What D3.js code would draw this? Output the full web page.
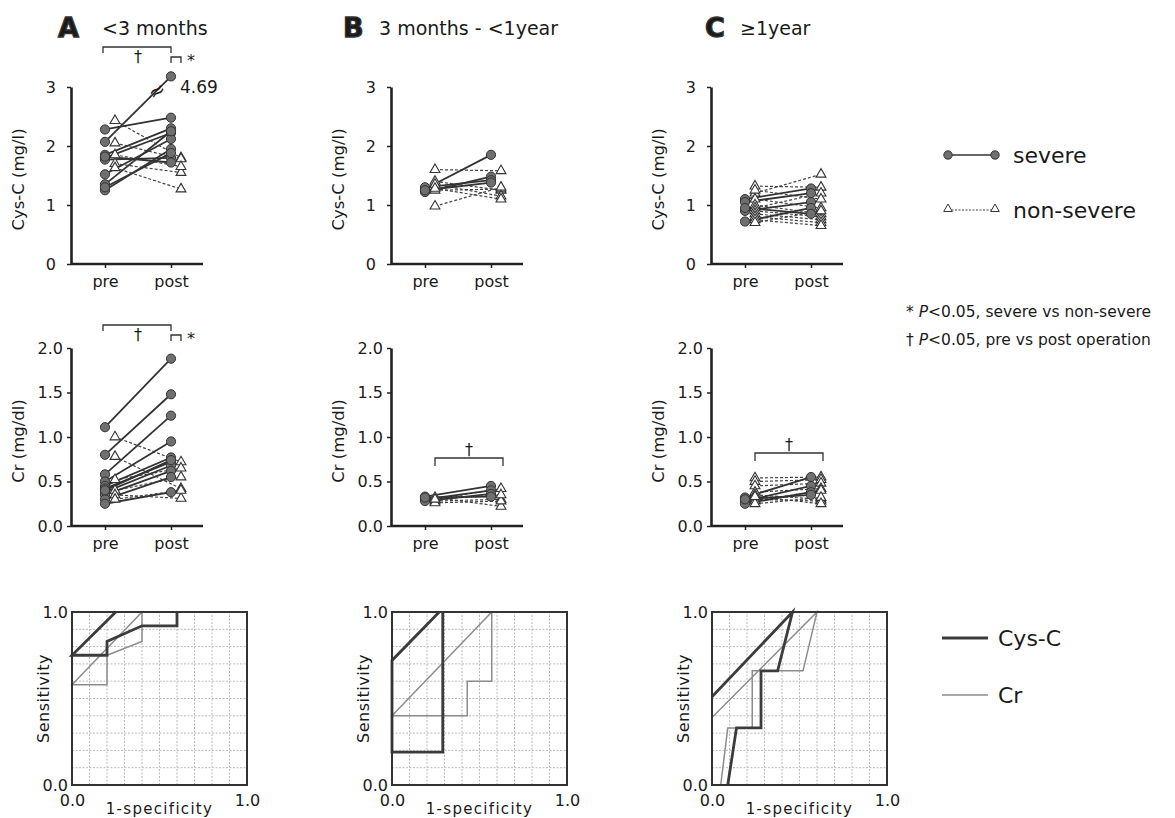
<!DOCTYPE html>
<html>
<head>
<meta charset="utf-8">
<script src="https://cdn.jsdelivr.net/npm/d3@7"></script>
<style>
  body { margin: 0; background: #fff; }
  svg text { font-family: "DejaVu Sans", sans-serif; fill: #1a1a1a; }
</style>
</head>
<body>
<svg id="chart" width="1175" height="818"></svg>
<script>
// ---- data ----
const phases = ["pre", "post"];
const panelLetters = ["A", "B", "C"];
const ageGroups = ["<3 months", "3 months - <1year", "\u22651year"];
const cysTicks = [0, 1, 2, 3];
const crTicks = [0, 0.5, 1.0, 1.5, 2.0];
const rocTicks = [0, 1];

// Cys-C (mg/l), one [pre, post] pair per patient
const cysSevereA = [[2.28, 2.48], [2.07, 4.69], [1.85, 2.30], [1.80, 2.22], [1.77, 1.80],
  [1.52, 2.12], [1.35, 2.25], [1.25, 1.95], [1.82, 1.72], [1.30, 1.88]];
const cysNonSevereA = [[2.43, 1.80], [2.05, 1.78], [1.70, 1.55], [1.63, 1.27], [1.85, 1.65]];
const cysSevereB = [[1.27, 1.85], [1.22, 1.48], [1.30, 1.42], [1.25, 1.38]];
const cysNonSevereB = [[1.60, 1.58], [1.40, 1.25], [1.25, 1.27], [0.98, 1.30], [1.35, 1.15], [1.28, 1.10]];
const cysSevereC = [[1.10, 1.28], [0.90, 1.05], [0.72, 0.95], [1.05, 1.20], [0.95, 0.85]];
const cysNonSevereC = [[1.32, 1.30], [1.20, 1.52], [1.10, 0.95], [1.00, 0.85], [0.95, 1.20], [0.90, 0.80],
  [0.85, 0.75], [0.80, 0.70], [0.75, 0.65], [1.25, 1.10], [0.70, 0.90]];

// Cr (mg/dl)
const crSevereA = [[1.11, 1.88], [0.80, 1.48], [0.58, 1.24], [0.50, 0.95], [0.45, 0.77], [0.42, 0.72],
  [0.38, 0.68], [0.35, 0.62], [0.30, 0.55], [0.25, 0.38], [0.40, 0.74]];
const crNonSevereA = [[1.00, 0.72], [0.78, 0.42], [0.52, 0.65], [0.40, 0.55], [0.35, 0.31], [0.30, 0.40]];
const crSevereB = [[0.33, 0.45], [0.30, 0.40], [0.28, 0.36], [0.32, 0.33]];
const crNonSevereB = [[0.30, 0.42], [0.28, 0.30], [0.32, 0.22], [0.26, 0.28], [0.30, 0.35]];
const crSevereC = [[0.32, 0.55], [0.28, 0.45], [0.25, 0.38], [0.30, 0.35]];
const crNonSevereC = [[0.54, 0.55], [0.50, 0.52], [0.45, 0.48], [0.38, 0.42], [0.35, 0.30], [0.30, 0.28],
  [0.28, 0.40], [0.25, 0.32], [0.33, 0.25]];

// ROC curves, [1-specificity, sensitivity]
const rocCysA = [[0.25, 1.0], [0, 0.75], [0.2, 0.75], [0.2, 0.83], [0.4, 0.92], [0.6, 0.92], [0.6, 1.0]];
const rocCrA = [[0.4, 1.0], [0, 0.58], [0.2, 0.58], [0.2, 0.75], [0.4, 0.83], [0.4, 1.0]];
const rocCysB = [[0.27, 1.0], [0, 0.72], [0, 0.19], [0.29, 0.19], [0.29, 1.0]];
const rocCrB = [[0.57, 1.0], [0, 0.40], [0.43, 0.40], [0.43, 0.60], [0.57, 0.60], [0.57, 1.0]];
const rocCysC = [[0, 0.51], [0.46, 1.0], [0.375, 0.66], [0.28, 0.66], [0.28, 0.33], [0.14, 0.33], [0.09, 0]];
const rocCrC = [[0, 0.39], [0.6, 1.0], [0.52, 0.66], [0.23, 0.66], [0.23, 0.33], [0.09, 0.33], [0.05, 0]];

// ---- layout ----
const svg = d3.select("#chart");
const axisX = [71, 391, 711];           // y-axis position of each column
const titleX = [[58, 102], [343, 379], [705, 740]];
const triOffset = 10;                   // non-severe markers sit a bit right

const cysBreakShown = 3.18; // 4.69 is drawn above the broken axis

/**
 * Draws one pre/post panel
 */
function pairPanel(col, severe, nonSevere, opts) {
  const ax = axisX[col];
  const y = d3.scaleLinear().domain(opts.domain).range(opts.range);
  const x = d3.scalePoint().domain(phases).range([ax + 34, ax + 100]);
  const g = svg.append("g");
  const shown = (v) => (v > opts.domain[1] ? cysBreakShown : v);

  // y axis
  g.append("g")
    .attr("transform", `translate(${ax},0)`)
    .call(d3.axisLeft(y).tickValues(opts.ticks).tickSize(4).tickSizeOuter(0)
      .tickPadding(opts.pad).tickFormat(opts.fmt))
    .call((a) => a.selectAll("text").style("font-size", "16px").attr("fill", "#1a1a1a"))
    .call((a) => a.selectAll("line").attr("stroke", "#222").attr("stroke-width", 1.5))
    .call((a) => a.select(".domain").attr("stroke", "#222").attr("stroke-width", 2.6));

  // x axis: base line wider than the two categories
  const base = y(0);
  g.append("line")
    .attr("x1", ax).attr("x2", ax + 132).attr("y1", base).attr("y2", base)
    .attr("stroke", "#222").attr("stroke-width", 2.6);
  g.append("g")
    .attr("transform", `translate(0,${base})`)
    .call(d3.axisBottom(x).tickSize(4).tickPadding(8))
    .call((a) => a.select(".domain").remove())
    .call((a) => a.selectAll("text").style("font-size", "16px").attr("fill", "#1a1a1a"))
    .call((a) => a.selectAll("line").attr("stroke", "#222").attr("stroke-width", 1.5));

  // y label
  g.append("text")
    .attr("transform", `translate(${ax - 53},${(opts.range[0] + opts.range[1]) / 2 + 4}) rotate(-90)`)
    .attr("text-anchor", "middle").attr("dy", "0.35em")
    .style("font-size", "16.5px")
    .text(opts.label);

  // non-severe: dashed lines, open triangles
  g.selectAll(".ns-line").data(nonSevere).join("line")
    .attr("x1", x("pre") + triOffset).attr("x2", x("post") + triOffset)
    .attr("y1", (d) => y(d[0])).attr("y2", (d) => y(d[1]))
    .attr("stroke", "#444").attr("stroke-width", 1.2).attr("stroke-dasharray", "3,2");

  // severe: solid lines
  g.selectAll(".sv-line").data(severe).join("line")
    .attr("x1", x("pre")).attr("x2", x("post"))
    .attr("y1", (d) => y(shown(d[0]))).attr("y2", (d) => y(shown(d[1])))
    .attr("stroke", "#333").attr("stroke-width", 1.8);

  const tri = d3.symbol(d3.symbolTriangle).size(42);
  nonSevere.forEach((d) => {
    phases.forEach((p, i) => {
      g.append("path").attr("d", tri)
        .attr("transform", `translate(${x(p) + triOffset},${y(d[i])})`)
        .attr("fill", "#fff").attr("stroke", "#333").attr("stroke-width", 1.1);
    });
  });
  severe.forEach((d) => {
    phases.forEach((p, i) => {
      g.append("circle")
        .attr("cx", x(p)).attr("cy", y(shown(d[i]))).attr("r", 4.6)
        .attr("fill", "#6f6f6f").attr("stroke", "#333").attr("stroke-width", 1);
    });
  });

  // broken value marker and label
  severe.filter((d) => d[1] > opts.domain[1]).forEach((d) => {
    const t = 0.78;
    const bx = x("pre") + t * (x("post") - x("pre"));
    const by = y(d[0]) + t * (y(cysBreakShown) - y(d[0]));
    g.append("text")
      .attr("transform", `translate(${bx},${by}) rotate(-35)`)
      .attr("dy", "0.35em").attr("text-anchor", "middle")
      .style("font-size", "20px").text("\u2248");
    g.append("text").attr("x", x("post") + 9).attr("y", y(cysBreakShown) + 17)
      .style("font-size", "17px").text(d3.format(".2f")(d[1]));
  });

  return { x, y, g };
}

/**
 * Bracket with a mark above/below it
 */
function bracket(g, x1, x2, yTop, drop, mark, markX, markY) {
  g.append("path")
    .attr("d", `M${x1},${yTop + drop}V${yTop}H${x2}V${yTop + drop}`)
    .attr("fill", "none").attr("stroke", "#333").attr("stroke-width", 1.3);
  if (mark) {
    g.append("text").attr("x", markX).attr("y", markY)
      .attr("text-anchor", "middle").style("font-size", "16px").text(mark);
  }
}

/**
 * Draws one ROC panel
 */
function rocPanel(col, cys, cr) {
  const left = axisX[col] + 1;
  const x = d3.scaleLinear().domain([0, 1]).range([left, left + 175]);
  const y = d3.scaleLinear().domain([0, 1]).range([785, 612]);
  const g = svg.append("g");
  const grid = d3.range(1, 10).map((i) => i / 10);

  g.selectAll(".gx").data(grid).join("line")
    .attr("x1", (d) => x(d)).attr("x2", (d) => x(d)).attr("y1", y(0)).attr("y2", y(1))
    .attr("stroke", "#bbb").attr("stroke-width", 1).attr("stroke-dasharray", "2,1.5");
  g.selectAll(".gy").data(grid).join("line")
    .attr("y1", (d) => y(d)).attr("y2", (d) => y(d)).attr("x1", x(0)).attr("x2", x(1))
    .attr("stroke", "#bbb").attr("stroke-width", 1).attr("stroke-dasharray", "2,1.5");

  const line = d3.line().x((d) => x(d[0])).y((d) => y(d[1]));
  g.append("path").attr("d", line(cr))
    .attr("fill", "none").attr("stroke", "#8c8c8c").attr("stroke-width", 1.5);
  g.append("path").attr("d", line(cys))
    .attr("fill", "none").attr("stroke", "#3c3c3c").attr("stroke-width", 2.8);

  g.append("rect")
    .attr("x", x(0)).attr("y", y(1)).attr("width", x(1) - x(0)).attr("height", y(0) - y(1))
    .attr("fill", "none").attr("stroke", "#333").attr("stroke-width", 2);

  g.append("g").attr("transform", `translate(${x(0)},0)`)
    .call(d3.axisLeft(y).tickValues(rocTicks).tickSize(0).tickPadding(4).tickFormat(d3.format(".1f")))
    .call((a) => a.select(".domain").remove())
    .call((a) => a.selectAll("text").style("font-size", "16px").attr("fill", "#1a1a1a"));
  g.append("g").attr("transform", `translate(0,${y(0)})`)
    .call(d3.axisBottom(x).tickValues(rocTicks).tickSize(0).tickPadding(10).tickFormat(d3.format(".1f")))
    .call((a) => a.select(".domain").remove())
    .call((a) => a.selectAll("text").style("font-size", "16px").attr("fill", "#1a1a1a"));

  g.append("text").attr("x", x(0.5)).attr("y", 814).attr("text-anchor", "middle")
    .style("font-size", "15px").style("letter-spacing", "1.3px").text("1-specificity");
  g.append("text")
    .attr("transform", `translate(${left - 29},${y(0.5)}) rotate(-90)`)
    .attr("text-anchor", "middle").attr("dy", "0.35em")
    .style("font-size", "16px").style("letter-spacing", "0.5px").text("Sensitivity");
}

// ---- titles ----
panelLetters.forEach((L, i) => {
  svg.append("text").attr("x", titleX[i][0]).attr("y", 37)
    .style("font-size", "27px").style("font-weight", "bold")
    .attr("fill", "#c8c8c8").attr("stroke", "#333").attr("stroke-width", 1.3)
    .text(L);
  svg.append("text").attr("x", titleX[i][1]).attr("y", 35)
    .style("font-size", "19px").text(ageGroups[i]);
});

// ---- pre/post panels ----
const cysOpts = { domain: [0, 3], range: [264, 87], ticks: cysTicks, pad: 11,
  fmt: d3.format("d"), label: "Cys-C (mg/l)" };
const crOpts = { domain: [0, 2], range: [526, 348], ticks: crTicks, pad: 4,
  fmt: d3.format(".1f"), label: "Cr (mg/dl)" };

const cysA = pairPanel(0, cysSevereA, cysNonSevereA, cysOpts);
pairPanel(1, cysSevereB, cysNonSevereB, cysOpts);
pairPanel(2, cysSevereC, cysNonSevereC, cysOpts);
const crA = pairPanel(0, crSevereA, crNonSevereA, crOpts);
const crB = pairPanel(1, crSevereB, crNonSevereB, crOpts);
const crC = pairPanel(2, crSevereC, crNonSevereC, crOpts);

// significance marks
[cysA, crA].forEach((p, i) => {
  const top = i === 0 ? 47 : 325;
  const xp = p.x("pre"), xq = p.x("post");
  bracket(p.g, xp - 2, xq, top, 6, "\u2020", (xp + xq) / 2, top + 15);
  bracket(p.g, xq, xq + 10, top + 10, 6, "*", xq + 20, top + 19);
});
[crB, crC].forEach((p) => {
  const xp = p.x("pre"), xq = p.x("post");
  const top = p === crB ? 458 : 453;
  bracket(p.g, xp + 10, xq + 12, top, 8, "\u2020", (xp + xq) / 2 + 11, top - 3);
});

// ---- ROC panels ----
rocPanel(0, rocCysA, rocCrA);
rocPanel(1, rocCysB, rocCrB);
rocPanel(2, rocCysC, rocCrC);

// ---- legends ----
const leg = svg.append("g");
leg.append("line").attr("x1", 948).attr("x2", 995).attr("y1", 155).attr("y2", 155)
  .attr("stroke", "#333").attr("stroke-width", 1.6);
[948, 995].forEach((cx) => leg.append("circle").attr("cx", cx).attr("cy", 155).attr("r", 4.2)
  .attr("fill", "#6f6f6f").attr("stroke", "#333"));
leg.append("text").attr("x", 1013).attr("y", 155).attr("dy", "0.35em")
  .style("font-size", "22px").text("severe");

leg.append("line").attr("x1", 948).attr("x2", 995).attr("y1", 210).attr("y2", 210)
  .attr("stroke", "#444").attr("stroke-width", 1).attr("stroke-dasharray", "2,1.5");
[948, 995].forEach((cx) => leg.append("path").attr("d", d3.symbol(d3.symbolTriangle).size(32))
  .attr("transform", `translate(${cx},209)`).attr("fill", "#fff").attr("stroke", "#333"));
leg.append("text").attr("x", 1013).attr("y", 210).attr("dy", "0.35em")
  .style("font-size", "22px").text("non-severe");

const pText = [["*", "severe vs non-severe"], ["\u2020", "pre vs post operation"]];
pText.forEach((d, i) => {
  const t = leg.append("text").attr("x", 906).attr("y", 312 + i * 28).attr("dy", "0.35em")
    .style("font-size", "15.5px");
  t.append("tspan").text(d[0] + " ");
  t.append("tspan").style("font-style", "italic").text("P");
  t.append("tspan").text("<0.05, " + d[1]);
});

leg.append("line").attr("x1", 942).attr("x2", 988).attr("y1", 638).attr("y2", 638)
  .attr("stroke", "#3c3c3c").attr("stroke-width", 2.8);
leg.append("text").attr("x", 998).attr("y", 638).attr("dy", "0.35em")
  .style("font-size", "22px").text("Cys-C");
leg.append("line").attr("x1", 942).attr("x2", 988).attr("y1", 695).attr("y2", 695)
  .attr("stroke", "#8c8c8c").attr("stroke-width", 1.5);
leg.append("text").attr("x", 998).attr("y", 695).attr("dy", "0.35em")
  .style("font-size", "22px").text("Cr");
</script>
</body>
</html>
